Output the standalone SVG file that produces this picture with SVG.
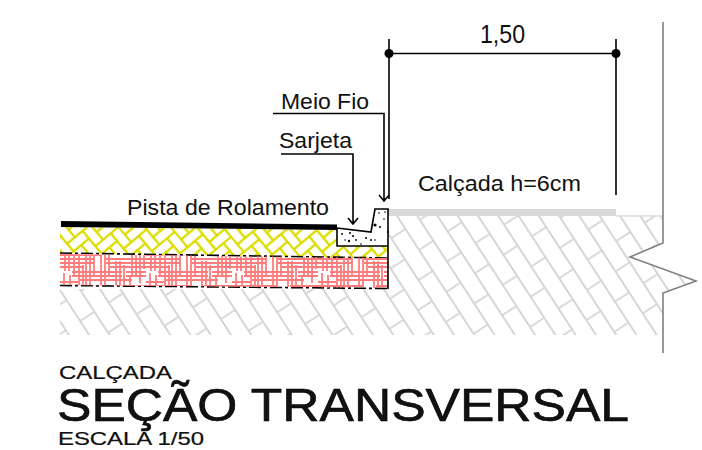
<svg xmlns="http://www.w3.org/2000/svg" width="702" height="450" viewBox="0 0 702 450">
<style>
text{font-family:"Liberation Sans",Arial,sans-serif;fill:#111}
.lb{font-size:22px}
.h{stroke:#000;stroke-width:.6}
.s{stroke:#000;stroke-width:.2}
.k{fill:none;stroke:#000;stroke-width:1.6}
.dd{fill:none;stroke:#000;stroke-width:1.6;stroke-dasharray:12 3 3 3}
</style>
<defs>
<pattern id="gray" width="50" height="34" patternUnits="userSpaceOnUse" patternTransform="translate(60 290) rotate(57)">
<g fill="none" stroke="#d6d6d6" stroke-width="1.8">
<path d="M0 0H50M0 17H50M0 34H50"/>
<path d="M12 0V17M37 17V34"/>
</g>
</pattern>
<pattern id="yel" width="40" height="40" patternUnits="userSpaceOnUse" patternTransform="translate(62 222) rotate(50)">
<g fill="none" stroke="#dcdc00" stroke-width="2.200">
<rect x="0" y="0" width="20" height="10"/><rect x="30" y="0" width="10" height="20"/>
<rect x="10" y="10" width="20" height="10"/><rect x="0" y="10" width="10" height="20"/>
<rect x="20" y="20" width="20" height="10"/><rect x="10" y="20" width="10" height="20"/>
<rect x="30" y="30" width="20" height="10"/><rect x="-10" y="30" width="20" height="10"/>
<rect x="20" y="30" width="10" height="20"/><rect x="20" y="-10" width="10" height="20"/>
</g>
</pattern>
<pattern id="pink" width="86" height="36" patternUnits="userSpaceOnUse" patternTransform="translate(60 253)">
<g fill="none" stroke="#ff7c7c" stroke-width="1.800">
<path d="M0 2H42M0 6H34M0 10H34M0 14H24M46 6H86M46 10H86M50 14H86M12 19H62M12 23H62M20 27H72M0 29H18M0 33H46M58 33H86M66 23H86M66 19H86"/>
<path d="M5 0V18M9 0V18M14 0V24M19 0V36M26 0V36M30 0V36M34 0V22M23 12V36M41 0V32M45 0V32M49 0V24M56 8V36M60 8V36M64 12V36M72 0V24M76 0V24M80 0V30M84 0V16M4 20V36M10 22V36M70 24V36"/>
</g>
</pattern>
</defs>
<g id="ground"><polygon points="389,216 663,216 663,243 630,257 696,281 663,293 663,335 60,335 60,289 389,289" fill="url(#gray)"/></g>
<g id="base-yellow"><polygon points="60,227 337,230 337,246 388,246 388,258 60,253" fill="url(#yel)"/></g>
<g id="pavement"><polygon points="61,221 337,224.500 337,230 61,227" fill="#000"/>
<path class="dd" d="M60 253 L388 258"/><path class="dd" d="M60 285.500 L388 288.500"/></g>
<g id="base-red"><polygon points="60,254 388,258 388,288 60,285" fill="url(#pink)"/></g>
<g id="sidewalk"><rect x="388" y="209" width="228" height="7" fill="#d9d9d9"/><path d="M616 216H663" stroke="#dcdcdc" stroke-width="1.500"/></g>
<g id="curb">
<path class="k" d="M337 228L371 232L375 209H388V289M337 228V246H388"/>
<g fill="#000"><circle cx="342" cy="234" r=".9"/><circle cx="350" cy="233" r="1"/><circle cx="353" cy="236" r="1.100"/><circle cx="356" cy="240" r=".9"/><circle cx="349" cy="241" r="1.200"/><circle cx="345" cy="240" r=".8"/><circle cx="366" cy="238" r="1"/><circle cx="371" cy="240" r="1"/><circle cx="375" cy="225" r="1.600"/><circle cx="379" cy="213" r=".8"/><circle cx="385" cy="212" r=".8"/><circle cx="380" cy="227" r="1"/><circle cx="384" cy="219" r=".8"/><circle cx="388" cy="232" r="1"/><circle cx="375" cy="240" r=".8"/><circle cx="361" cy="244" r=".8"/></g>
</g>
<g id="break-line"><path d="M663 22V243L630 257L696 281L663 293V353" fill="none" stroke="#808080" stroke-width="1.600"/></g>
<g id="connectors">
<path class="k" d="M389 39V199M616 39V195M389 53.500H616"/>
<circle cx="389" cy="53.500" r="4.500"/><circle cx="616" cy="53.500" r="4.500"/>
<path class="k" d="M273 113.500H384V201M379 195L384 201L389 195"/>
<path class="k" d="M281 154H353V224M348 218L353 224L358 218"/>
</g>
<g id="labels">
<text x="480" y="43" font-size="26" textLength="45" lengthAdjust="spacingAndGlyphs">1,50</text>
<text class="lb" x="281" y="109" textLength="88" lengthAdjust="spacingAndGlyphs">Meio Fio</text>
<text class="lb" x="279" y="148" textLength="73" lengthAdjust="spacingAndGlyphs">Sarjeta</text>
<text class="lb" x="418" y="191" textLength="163" lengthAdjust="spacingAndGlyphs">Calçada h=6cm</text>
<text class="lb" x="127" y="215" textLength="202" lengthAdjust="spacingAndGlyphs">Pista de Rolamento</text>
</g>
<g id="title">
<text class="s" x="59" y="379" font-size="19" textLength="113" lengthAdjust="spacingAndGlyphs">CALÇADA</text>
<text class="h" x="57" y="421" font-size="46" textLength="572" lengthAdjust="spacingAndGlyphs">SEÇÃO TRANSVERSAL</text>
<text class="s" x="58" y="445" font-size="19" textLength="146" lengthAdjust="spacingAndGlyphs">ESCALA 1/50</text>
</g>
</svg>
